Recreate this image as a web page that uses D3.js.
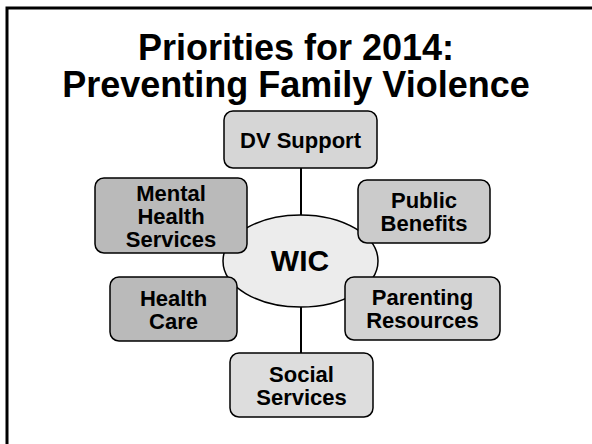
<!DOCTYPE html>
<html>
<head>
<meta charset="utf-8">
<script src="https://cdn.jsdelivr.net/npm/d3@7"></script>
<style>
  body { margin: 0; background: #fff; }
  text { font-family: "Liberation Sans", Arial, sans-serif; font-weight: bold; fill: #000; }
</style>
</head>
<body>
<div id="chart"></div>
<script>
// slide: hub and spoke diagram
var titleLines = ["Priorities for 2014:", "Preventing Family Violence"]
var hubLabel = "WIC"

var nodeNames = ["DV Support", "Mental Health Services", "Public Benefits", "Health Care", "Parenting Resources", "Social Services"]
var nodeLines = [["DV Support"], ["Mental", "Health", "Services"], ["Public", "Benefits"], ["Health", "Care"], ["Parenting", "Resources"], ["Social", "Services"]]
var nodeFills = ["#d6d6d6", "#bababa", "#cbcbcb", "#bababa", "#d3d3d3", "#dddddd"]

var width = 592, height = 444

var svg = d3.select("#chart").append("svg")
    .attr("width", width)
    .attr("height", height)

// frame
svg.append("rect")
    .attr("x", 7)
    .attr("y", 8)
    .attr("width", 620)
    .attr("height", 480)
    .attr("fill", "none")
    .attr("stroke", "#000")
    .attr("stroke-width", 3)

var title = svg.append("text")
    .attr("x", 296)
    .attr("y", 60)
    .attr("text-anchor", "middle")
    .style("font-size", "36px")

title.selectAll("tspan")
    .data(titleLines)
  .enter().append("tspan")
    .attr("x", 296)
    .attr("dy", function(d, i) { return i == 0 ? 0 : 37 })
    .text(function(d) { return d })

// box layout (x, y, w, h) per node
var boxes = [
  [224, 111, 153, 57],
  [95, 178, 152, 75],
  [358, 180, 132, 63],
  [110, 277, 127, 64],
  [345, 277, 155, 63],
  [230, 353, 143, 64]
]

// spokes
svg.append("line")
    .attr("x1", 301).attr("x2", 301)
    .attr("y1", 168).attr("y2", 353)
    .attr("stroke", "#000")
    .attr("stroke-width", 2)

svg.append("ellipse")
    .attr("cx", 300.5)
    .attr("cy", 261)
    .attr("rx", 77.5)
    .attr("ry", 46)
    .attr("fill", "#ececec")
    .attr("stroke", "#000")
    .attr("stroke-width", 1.5)

svg.append("text")
    .attr("x", 300)
    .attr("y", 271)
    .attr("text-anchor", "middle")
    .style("font-size", "30px")
    .text(hubLabel)

var node = svg.selectAll(".node")
    .data(nodeNames)
  .enter().append("g")
    .attr("class", "node")
    .attr("transform", function(d, i) { return "translate(" + boxes[i][0] + "," + boxes[i][1] + ")" })

node.append("rect")
    .attr("width", function(d, i) { return boxes[i][2] })
    .attr("height", function(d, i) { return boxes[i][3] })
    .attr("rx", 9)
    .attr("fill", function(d, i) { return nodeFills[i] })
    .attr("stroke", "#000")
    .attr("stroke-width", 1.5)

var lh = 23
node.append("text")
    .attr("y", function(d, i) { return boxes[i][3] / 2 - (nodeLines[i].length - 1) * lh / 2 + 8 })
    .attr("text-anchor", "middle")
    .style("font-size", "22px")
  .selectAll("tspan")
    .data(function(d, i) { return nodeLines[i].map(function(t) { return {t: t, w: boxes[i][2]} }) })
  .enter().append("tspan")
    .attr("x", function(d) { return d.w / 2 })
    .attr("dy", function(d, k) { return k == 0 ? 0 : lh })
    .text(function(d) { return d.t })
</script>
</body>
</html>
